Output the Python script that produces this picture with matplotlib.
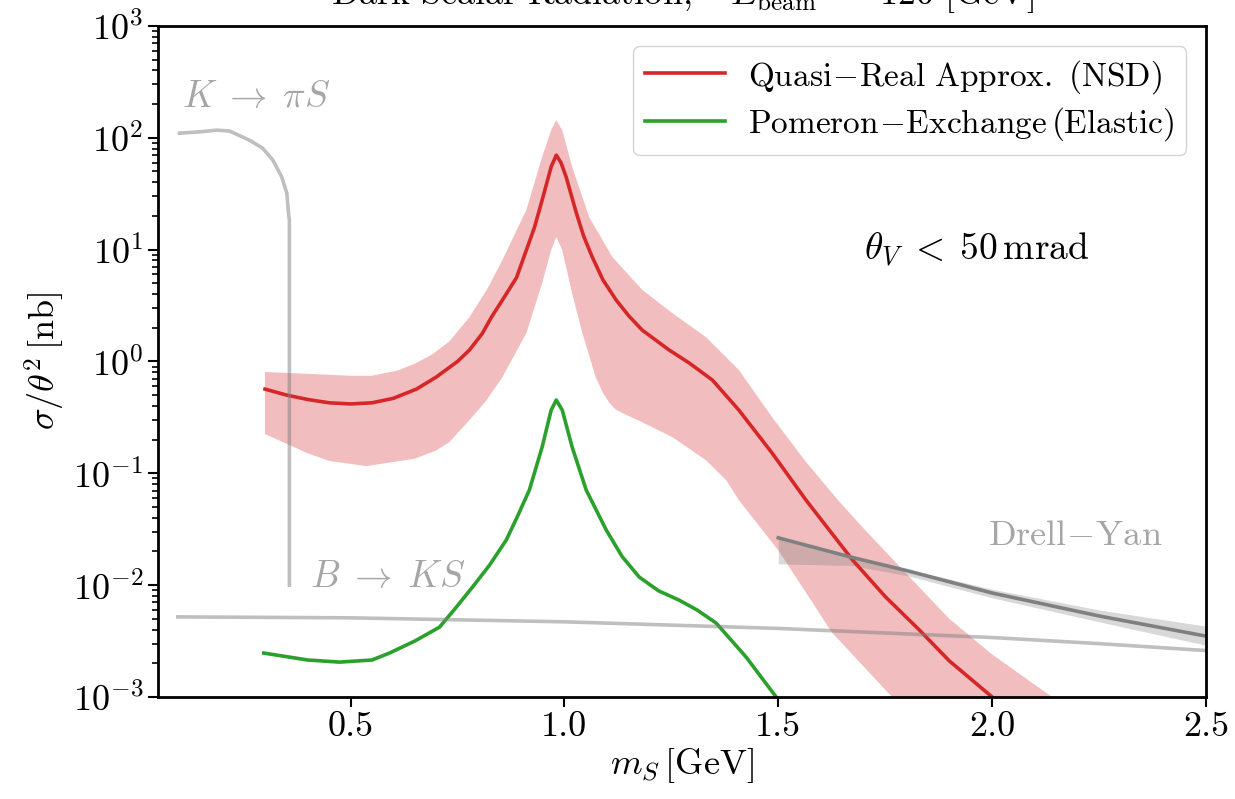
import numpy as np
import matplotlib
matplotlib.use("Agg")
import matplotlib.pyplot as plt

plt.rcParams['font.family'] = 'serif'
plt.rcParams['font.serif'] = ['cmr10']
plt.rcParams['mathtext.fontset'] = 'cm'
plt.rcParams['axes.unicode_minus'] = False
plt.rcParams['axes.formatter.use_mathtext'] = True

# quasi-real approx (NSD), central curve
m_qr = [0.30, 0.35, 0.40, 0.45, 0.50, 0.55, 0.60, 0.654, 0.70, 0.75, 0.778, 0.808, 0.83,
        0.855, 0.888, 0.911, 0.93, 0.948, 0.969, 0.981, 0.992, 1.004, 1.028, 1.045,
        1.065, 1.09, 1.121, 1.15, 1.182, 1.245, 1.292, 1.346, 1.408, 1.486, 1.565,
        1.673, 1.75, 1.829, 1.90, 2.00, 2.10]
sig_qr = [0.566, 0.501, 0.457, 0.427, 0.417, 0.427, 0.468, 0.566, 0.724, 1.0, 1.265, 1.78, 2.51,
          3.54, 5.62, 9.9, 15.8, 27.8, 55, 70, 60, 44.7, 21.2, 13.2,
          8.6, 5.37, 3.54, 2.57, 1.905, 1.265, 0.968, 0.682, 0.367, 0.151, 0.0575,
          0.0169, 0.0079, 0.0040, 0.0021, 0.001, 0.0005]

# uncertainty band, upper and lower edge
m_up = [0.30, 0.40, 0.50, 0.55, 0.61, 0.65, 0.69, 0.731, 0.778, 0.82, 0.855, 0.911, 0.948,
        0.969, 0.981, 0.995, 1.018, 1.058, 1.112, 1.182, 1.252, 1.331, 1.408, 1.486,
        1.565, 1.642, 1.706, 1.80, 1.90, 2.00, 2.14, 2.20]
sig_up = [0.805, 0.776, 0.745, 0.745, 0.83, 0.955, 1.15, 1.51, 2.49, 4.47, 8.07, 22.6, 67.6,
          117, 144, 117, 55, 19.5, 8.6, 4.37, 2.71, 1.65, 0.838, 0.316,
          0.126, 0.0562, 0.0302, 0.0126, 0.0050, 0.0024, 0.001, 0.00063]

m_lo = [0.30, 0.40, 0.45, 0.537, 0.65, 0.70, 0.731, 0.778, 0.816, 0.855, 0.911, 0.948,
        0.969, 0.981, 0.995, 1.018, 1.042, 1.074, 1.09, 1.105, 1.12, 1.14, 1.175,
        1.252, 1.331, 1.378, 1.408, 1.502, 1.626, 1.766, 1.80]
sig_lo = [0.224, 0.151, 0.129, 0.116, 0.135, 0.16, 0.19, 0.299, 0.44, 0.724, 1.79, 5.01,
          9.9, 13.0, 9.9, 4.07, 1.79, 0.71, 0.525, 0.427, 0.372, 0.339, 0.295,
          0.211, 0.131, 0.087, 0.0575, 0.020, 0.00375, 0.001, 0.00071]

# pomeron exchange (elastic)
m_pom = [0.297, 0.40, 0.474, 0.55, 0.591, 0.65, 0.708, 0.745, 0.785, 0.825, 0.864, 0.89,
         0.918, 0.948, 0.969, 0.981, 0.995, 1.018, 1.051, 1.098, 1.135, 1.175, 1.22,
         1.268, 1.31, 1.355, 1.425, 1.495, 1.52]
sig_pom = [0.00247, 0.00214, 0.00205, 0.00214, 0.00247, 0.00316, 0.00421, 0.0062, 0.0096,
           0.0151, 0.0253, 0.041, 0.0708, 0.172, 0.367, 0.452, 0.367, 0.172, 0.0708, 0.031,
           0.018, 0.0118, 0.0089, 0.00735, 0.006, 0.00457, 0.00227, 0.001, 0.00071]

# K -> pi S
m_k = [0.100, 0.147, 0.187, 0.217, 0.264, 0.294, 0.318, 0.339, 0.351, 0.355, 0.357, 0.357]
sig_k = [110, 113, 117, 115, 95, 81, 63.5, 44.7, 32, 21, 18.4, 0.01]

# B -> K S
m_b = [0.096, 0.5, 1.0, 1.5, 2.0, 2.25, 2.5]
sig_b = [0.0052, 0.0051, 0.0047, 0.0041, 0.0034, 0.0030, 0.0026]

# Drell-Yan
m_dy = [1.5, 1.67, 1.8, 2.0, 2.25, 2.5]
sig_dy = [0.0265, 0.0178, 0.0135, 0.0085, 0.0053, 0.0035]
dy_lo = [0.0155, 0.0150, 0.0122, 0.0077, 0.0047, 0.0029]
dy_hi = [0.0267, 0.0185, 0.0140, 0.0092, 0.0060, 0.0043]

fig = plt.figure(figsize=(12.35, 7.99), dpi=100)
ax = fig.add_axes([0.128, 0.1277, 0.8485, 0.8398])

band_x = np.concatenate([m_up, m_lo[::-1]])
band_y = np.concatenate([sig_up, sig_lo[::-1]])
ax.fill(band_x, band_y, color='tab:red', alpha=0.3, lw=0)
ax.plot(m_qr, sig_qr, color='tab:red', lw=2.6, label=r'$\mathrm{Quasi\!-\!Real\ Approx.\ (NSD)}$')
ax.plot(m_pom, sig_pom, color='tab:green', lw=2.6, label=r'$\mathrm{Pomeron\!-\!Exchange\,(Elastic)}$')

ax.plot(m_k, sig_k, color='gray', alpha=0.5, lw=2.6)
ax.plot(m_b, sig_b, color='gray', alpha=0.5, lw=2.6)
ax.fill_between(m_dy, dy_lo, dy_hi, color='gray', alpha=0.3, lw=0)
ax.plot(m_dy, sig_dy, color='gray', lw=2.6)

ax.text(0.107, 190, r'$K\;\to\;\pi S$', color='gray', alpha=0.7, fontsize=27)
ax.text(0.405, 0.0097, r'$B\;\to\;KS$', color='gray', alpha=0.7, fontsize=27)
ax.text(1.99, 0.023, r'$\mathrm{Drell\!-\!Yan}$', color='gray', alpha=0.7, fontsize=26)
ax.text(1.70, 8.0, r'$\theta_V\;<\;50\,\mathrm{mrad}$', color='black', fontsize=27)

ax.set_yscale('log')
ax.set_xlim(0.05, 2.5)
ax.set_ylim(1e-3, 1e3)
ax.set_xticks([0.5, 1.0, 1.5, 2.0, 2.5])
ax.set_xticklabels(['0.5', '1.0', '1.5', '2.0', '2.5'])
ax.tick_params(labelsize=26, width=1.5, length=7)
ax.tick_params(which='minor', width=1.2, length=4)
for s in ax.spines.values():
    s.set_linewidth(2)

ax.set_xlabel(r'$m_S\,[\mathrm{GeV}]$', fontsize=26, labelpad=2)
ax.set_ylabel(r'$\sigma/\theta^2\,[\mathrm{nb}]$', fontsize=26, labelpad=4)
ax.set_title(r'$\mathrm{Dark\ Scalar\ Radiation,}\quad E_{\rm beam}\ =\ 120\ [\mathrm{GeV}]$', fontsize=26, pad=16)

ax.legend(loc='upper right', fontsize=24, handlelength=2.4, framealpha=1, edgecolor='lightgray',
          borderaxespad=0.6, labelspacing=0.3, borderpad=0.35, handletextpad=0.7)

fig.savefig('out.png', dpi=100)
